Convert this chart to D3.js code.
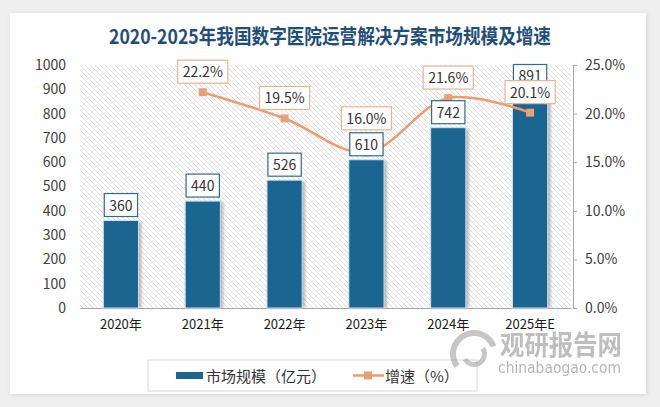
<!doctype html>
<html lang="zh">
<head>
<meta charset="utf-8">
<script src="https://d3js.org/d3.v7.min.js"></script>
<title>2020-2025年我国数字医院运营解决方案市场规模及增速</title>
<style>
  html, body { margin: 0; padding: 0; background: #efefef; }
  svg { display: block; font-family: "Noto Sans CJK SC", "Noto Sans", sans-serif; }
</style>
</head>
<body>
<svg id="svg" width="660" height="407"></svg>
<script>
// chart values
const years = ["2020年", "2021年", "2022年", "2023年", "2024年", "2025年E"];
const marketSize = [360, 440, 526, 610, 742, 891];
const growth = [null, 22.2, 19.5, 16.0, 21.6, 20.1];
const leftTicks = [0, 100, 200, 300, 400, 500, 600, 700, 800, 900, 1000];
const rightTicks = [0, 5, 10, 15, 20, 25];
const titleText = "2020-2025年我国数字医院运营解决方案市场规模及增速";
const legendBar = "市场规模（亿元）";
const legendLine = "增速（%）";

const width = 660, height = 407;
const plot = { left: 80, right: 571, top: 65, bottom: 308 };
const barColor = "#1b6591";
const lineColor = "#ec9c70";

const svg = d3.select("#svg");
const defs = svg.append("defs");

// card shadow
const sh = defs.append("filter").attr("id", "cardShadow")
  .attr("x", "-5%").attr("y", "-5%").attr("width", "110%").attr("height", "110%");
sh.append("feDropShadow").attr("dx", 1).attr("dy", 1).attr("stdDeviation", 2.5)
  .attr("flood-color", "#000").attr("flood-opacity", 0.12);

const bs = defs.append("filter").attr("id", "barShadow")
  .attr("x", "-30%").attr("y", "-10%").attr("width", "160%").attr("height", "120%");
bs.append("feGaussianBlur").attr("stdDeviation", 1.5);

// diagonal hatch for the plot area
const pat = defs.append("pattern").attr("id", "hatch")
  .attr("width", 5).attr("height", 5).attr("patternUnits", "userSpaceOnUse");
pat.append("rect").attr("width", 5).attr("height", 5).attr("fill", "#ffffff");
pat.append("path").attr("d", "M0,0L5,5M-1,4L1,6M4,-1L6,1")
  .attr("stroke", "#dedede").attr("stroke-width", 1);

svg.append("rect").attr("width", width).attr("height", height).attr("fill", "#efefef");
svg.append("rect")
  .attr("x", 10).attr("y", 13).attr("width", 636).attr("height", 381)
  .attr("fill", "#fefefe").attr("filter", "url(#cardShadow)");

// title
svg.append("text")
  .attr("x", 330).attr("y", 44)
  .attr("text-anchor", "middle")
  .attr("font-size", 20).attr("font-weight", "bold")
  .attr("fill", "#1f4e79")
  .attr("textLength", 442).attr("lengthAdjust", "spacingAndGlyphs")
  .text(titleText);

// scales
const x = d3.scaleBand().domain(years).range([plot.left, plot.right])
  .paddingInner(0.57).paddingOuter(0.285);
const yL = d3.scaleLinear().domain([0, 1000]).range([plot.bottom, plot.top]);
const yR = d3.scaleLinear().domain([0, 25]).range([plot.bottom, plot.top]);
const cx = d => x(d) + x.bandwidth() / 2;

svg.append("rect")
  .attr("x", plot.left).attr("y", plot.top)
  .attr("width", plot.right - plot.left).attr("height", plot.bottom - plot.top)
  .attr("fill", "url(#hatch)");

// axes
const gl = svg.append("g").attr("transform", `translate(${plot.left},0)`)
  .call(d3.axisLeft(yL).tickValues(leftTicks).tickSize(0).tickPadding(14)
    .tickFormat(d3.format("d")));
gl.select(".domain").remove();
gl.selectAll(".tick text").attr("font-size", 14).attr("fill", "#404040")
  .attr("font-family", "'Noto Sans CJK SC', sans-serif");

const gr = svg.append("g").attr("transform", `translate(${plot.right + 2},0)`)
  .call(d3.axisRight(yR).tickValues(rightTicks).tickSize(4).tickPadding(8)
    .tickFormat(d => d.toFixed(1) + "%"));
gr.select(".domain").attr("stroke", "#a6a6a6");
gr.selectAll(".tick line").attr("stroke", "#a6a6a6");
gr.selectAll(".tick text").attr("font-size", 14).attr("fill", "#404040")
  .attr("font-family", "'Noto Sans CJK SC', sans-serif");

const gb = svg.append("g").attr("transform", `translate(0,${plot.bottom})`)
  .call(d3.axisBottom(x).tickSize(0).tickPadding(12));
gb.select(".domain").attr("stroke", "#a6a6a6");
gb.selectAll(".tick text").attr("font-size", 13).attr("fill", "#1a1a1a")
  .attr("font-family", "'Noto Sans CJK SC', sans-serif");

// bars
const bars = years.map((y, i) => ({ year: y, v: marketSize[i], g: growth[i] }));
svg.append("g").selectAll("rect").data(bars).join("rect")
  .attr("x", d => x(d.year) + 1).attr("y", d => yL(d.v) + 1)
  .attr("width", x.bandwidth() + 2).attr("height", d => plot.bottom - yL(d.v) - 1)
  .attr("fill", "#8c8c8c").attr("opacity", 0.6).attr("filter", "url(#barShadow)");
svg.append("g").selectAll("rect").data(bars).join("rect")
  .attr("x", d => x(d.year)).attr("y", d => yL(d.v))
  .attr("width", x.bandwidth()).attr("height", d => plot.bottom - yL(d.v))
  .attr("fill", barColor).attr("stroke", "#cfe2ee").attr("stroke-width", 1);

// growth line
const pts = bars.filter(d => d.g != null);
svg.append("path").datum(pts)
  .attr("d", d3.line().x(d => cx(d.year)).y(d => yR(d.g)).curve(d3.curveCatmullRom))
  .attr("fill", "none").attr("stroke", lineColor).attr("stroke-width", 2.5);
svg.append("g").selectAll("rect").data(pts).join("rect")
  .attr("x", d => cx(d.year) - 4).attr("y", d => yR(d.g) - 4)
  .attr("width", 8).attr("height", 8)
  .attr("fill", "#e6a17b");

// data labels
const boxH = 23;
function labelBox(g, cxv, bottom, txt, stroke) {
  const t = g.append("text").attr("x", cxv).attr("y", bottom - 6)
    .attr("text-anchor", "middle").attr("font-size", 14).attr("fill", "#333")
    .attr("font-family", "'Noto Sans CJK SC', sans-serif").text(txt);
  const w = t.node().getComputedTextLength() + 10;
  g.insert("rect", "text").attr("x", cxv - w / 2).attr("y", bottom - boxH)
    .attr("width", w).attr("height", boxH)
    .attr("fill", "#fff").attr("stroke", stroke).attr("stroke-width", 1.2);
}

const labels = svg.append("g");
bars.forEach(d => {
  const g = labels.append("g");
  labelBox(g, cx(d.year), yL(d.v) - 4, String(d.v), "#2e6b8e");
});
pts.forEach(d => {
  const barTop = yL(d.v) - 4 - boxH;
  const barBottom = yL(d.v) - 4;
  let bottom = yR(d.g) - 9;
  // lift above the bar label if they would collide and the bar label sits lower
  if (bottom > barTop && bottom - boxH < barBottom && barTop > bottom - boxH) {
    bottom = barTop - 3;
  }
  const g = labels.append("g");
  labelBox(g, cx(d.year), bottom, d.g.toFixed(1) + "%", "#e5b497");
});

// legend
const lg = svg.append("g");
lg.append("rect").attr("x", 148).attr("y", 360).attr("width", 329).attr("height", 31)
  .attr("fill", "#fff").attr("stroke", "#d9d9d9");
lg.append("rect").attr("x", 176).attr("y", 372).attr("width", 27).attr("height", 7)
  .attr("fill", barColor);
lg.append("text").attr("x", 206).attr("y", 382).attr("font-size", 15).attr("fill", "#333")
  .text(legendBar);
lg.append("line").attr("x1", 353).attr("x2", 384).attr("y1", 375.5).attr("y2", 375.5)
  .attr("stroke", lineColor).attr("stroke-width", 2.5);
lg.append("rect").attr("x", 364).attr("y", 371.5).attr("width", 8).attr("height", 8)
  .attr("fill", "#e6a17b");
lg.append("text").attr("x", 385).attr("y", 382).attr("font-size", 15).attr("fill", "#333")
  .text(legendLine);

// watermark
const wm = svg.append("g").attr("opacity", 0.55);
const arc = d3.arc();
wm.append("path").attr("transform", "translate(474,354)")
  .attr("d", arc({ innerRadius: 18, outerRadius: 24, startAngle: -2.2, endAngle: 1.2 }))
  .attr("fill", "#9a9a9a");
wm.append("path").attr("transform", "translate(474,354)")
  .attr("d", arc({ innerRadius: 8, outerRadius: 13, startAngle: 1.0, endAngle: 4.2 }))
  .attr("fill", "#9a9a9a");
wm.append("text").attr("x", 500).attr("y", 355).attr("font-size", 27).attr("font-weight", "bold")
  .attr("fill", "#8a8a8a").attr("textLength", 122).attr("lengthAdjust", "spacingAndGlyphs")
  .text("观研报告网");
wm.append("text").attr("x", 498).attr("y", 373).attr("font-size", 15)
  .attr("fill", "#7a7a7a").attr("textLength", 123).attr("lengthAdjust", "spacingAndGlyphs")
  .attr("font-family", "'DejaVu Sans', sans-serif")
  .text("chinabaogao.com");
</script>
</body>
</html>
